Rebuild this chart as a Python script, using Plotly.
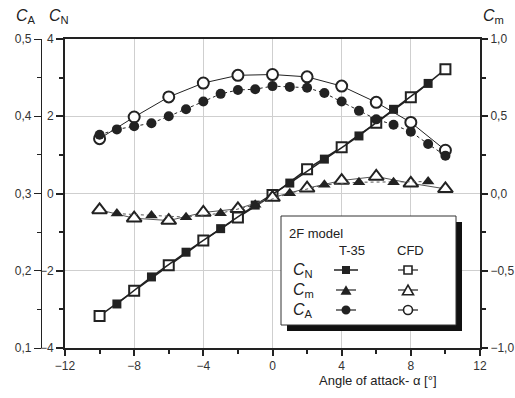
import plotly.graph_objects as go

# ---------------- data ----------------
alpha_odd = [-9, -7, -5, -3, -1, 1, 3, 5, 7, 9]
alpha_even = [-10, -8, -6, -4, -2, 0, 2, 4, 6, 8, 10]
alpha_all = list(range(-10, 11))

CN_T35 = [-2.86, -2.16, -1.52, -0.91, -0.30, 0.27, 0.89, 1.49, 2.18, 2.85]
CN_CFD = [-3.17, -2.52, -1.86, -1.22, -0.62, -0.04, 0.63, 1.20, 1.83, 2.49, 3.22]

Cm_T35 = [-0.13, -0.143, -0.153, -0.128, -0.073, 0.002, 0.056, 0.073, 0.073, 0.077]
Cm_CFD = [-0.106, -0.160, -0.175, -0.123, -0.099, -0.026, 0.034, 0.084, 0.11, 0.066, 0.03]

CA_T35 = [0.376, 0.383, 0.387, 0.391, 0.400, 0.409, 0.419, 0.429, 0.434, 0.435, 0.439,
          0.438, 0.437, 0.430, 0.419, 0.407, 0.396, 0.389, 0.380, 0.364, 0.349]
CA_CFD = [0.371, 0.399, 0.425, 0.443, 0.453, 0.454, 0.451, 0.439, 0.418, 0.392, 0.356]

x_ticks = [-12, -8, -4, 0, 4, 8, 12]

# ---------------- layout geometry ----------------
FW, FH = 515, 398
ML, MR, MT, MB = 30, 35, 39, 50
PW = FW - ML - MR
PH = FH - MT - MB
AX_LEFT = 65      # pixel of CN axis
CA_AX = 41        # pixel of outer CA axis

def xp(px):
    return (px - ML) / PW

def yp(py):
    return (FH - MB - py) / PH

FONT = "Liberation Sans, Arial, sans-serif"
DARK = "#222222"
GRID = "#cfcfcf"

fig = go.Figure()

# CFD first (drawn below), T-35 on top
fig.add_trace(go.Scatter(x=alpha_even, y=CA_CFD, yaxis="y3", mode="lines+markers",
                         line=dict(color=DARK, width=1),
                         marker=dict(symbol="circle", size=11, color="white",
                                     line=dict(color=DARK, width=2)), showlegend=False))
fig.add_trace(go.Scatter(x=alpha_all, y=CA_T35, yaxis="y3", mode="lines+markers",
                         line=dict(color=DARK, width=1, dash="3px,3px"),
                         marker=dict(symbol="circle", size=10, color=DARK,
                                     line=dict(color=DARK, width=0)), showlegend=False))
fig.add_trace(go.Scatter(x=alpha_even, y=Cm_CFD, yaxis="y2", mode="lines+markers",
                         line=dict(color="#555555", width=1),
                         marker=dict(symbol="triangle-up", size=13, color="white",
                                     line=dict(color=DARK, width=2)), showlegend=False))
fig.add_trace(go.Scatter(x=alpha_odd, y=Cm_T35, yaxis="y2", mode="lines+markers",
                         line=dict(color="#555555", width=1, dash="3px,3px"),
                         marker=dict(symbol="triangle-up", size=11, color=DARK,
                                     line=dict(color=DARK, width=0)), showlegend=False))
fig.add_trace(go.Scatter(x=alpha_even, y=CN_CFD, mode="lines+markers",
                         line=dict(color=DARK, width=1.5),
                         marker=dict(symbol="square", size=10, color="white",
                                     line=dict(color=DARK, width=2)), showlegend=False))
fig.add_trace(go.Scatter(x=alpha_odd, y=CN_T35, mode="lines+markers",
                         line=dict(color=DARK, width=1.5),
                         marker=dict(symbol="square", size=9, color=DARK,
                                     line=dict(color=DARK, width=0)), showlegend=False))

tickfont = dict(family=FONT, size=12, color="#333333")

fig.update_layout(
    width=FW, height=FH,
    margin=dict(l=ML, r=MR, t=MT, b=MB, pad=0),
    paper_bgcolor="white", plot_bgcolor="white",
    separators=",.",
    showlegend=False,
    xaxis=dict(domain=[xp(AX_LEFT), 1], range=[-12, 12], tickvals=x_ticks,
               showgrid=True, gridcolor=GRID, gridwidth=1, zeroline=False,
               showline=True, linecolor=DARK, linewidth=2, mirror=True,
               ticks="outside", ticklen=6, tickwidth=1.5, tickcolor=DARK,
               minor=dict(dtick=2, tick0=0, ticks="outside", ticklen=4, tickwidth=1.5,
                          tickcolor=DARK, showgrid=False),
               tickfont=tickfont, automargin=False),
    yaxis=dict(range=[-4, 4], dtick=2, tick0=0, side="left",
               showgrid=True, gridcolor=GRID, gridwidth=1, zeroline=False,
               showline=True, linecolor=DARK, linewidth=2,
               ticks="outside", ticklen=7, tickwidth=1.5, tickcolor=DARK,
               minor=dict(dtick=1, tick0=0, ticks="outside", ticklen=4, tickwidth=1.5,
                          tickcolor=DARK, showgrid=False),
               tickfont=tickfont, automargin=False),
    yaxis2=dict(range=[-1, 1], dtick=0.5, tick0=0, tickformat=".1f", side="right",
                overlaying="y", anchor="x", showgrid=False, zeroline=False,
                showline=True, linecolor=DARK, linewidth=2,
                ticks="outside", ticklen=6, tickwidth=1.5, tickcolor=DARK,
                minor=dict(dtick=0.25, tick0=0, ticks="outside", ticklen=4, tickwidth=1.5,
                           tickcolor=DARK, showgrid=False),
                tickfont=tickfont, automargin=False),
    yaxis3=dict(range=[0.1, 0.5], dtick=0.1, tick0=0.1, tickformat=".1f", side="left",
                overlaying="y", anchor="free", position=xp(CA_AX),
                showgrid=False, zeroline=False,
                showline=True, linecolor=DARK, linewidth=1.2,
                ticks="outside", ticklen=7, tickwidth=1.2, tickcolor=DARK,
                minor=dict(dtick=0.05, tick0=0.1, ticks="outside", ticklen=4, tickwidth=1.2,
                           tickcolor=DARK, showgrid=False),
                tickfont=tickfont, automargin=False),
)

# ---------------- axis titles ----------------
ann = []
def add_text(text, px, py, size=12, xanchor="center", italic=False, color="#222222"):
    ann.append(dict(text=text, x=xp(px), y=yp(py), xref="paper", yref="paper",
                    showarrow=False, xanchor=xanchor, yanchor="middle",
                    font=dict(family=FONT, size=size, color=color)))

add_text("<i>C</i><sub>A</sub>", 14, 16, size=16, xanchor="left")
add_text("<i>C</i><sub>N</sub>", 47, 16, size=16, xanchor="left")
add_text("<i>C</i><sub>m</sub>", 481, 16, size=16, xanchor="left")
add_text("Angle of attack- α [°]", 378, 380, size=13)

# ---------------- custom legend box ----------------
shapes = []
shapes.append(dict(type="rect", xref="paper", yref="paper",
                   x0=xp(287), x1=xp(462), y0=yp(331), y1=yp(222),
                   fillcolor="#111111", line=dict(width=0)))
shapes.append(dict(type="rect", xref="paper", yref="paper",
                   x0=xp(281), x1=xp(456), y0=yp(325), y1=yp(216),
                   fillcolor="white", line=dict(color="#333333", width=1)))

add_text("2F model", 287, 233, size=13, xanchor="left")
add_text("T-35", 352, 250, size=13)
add_text("CFD", 410, 250, size=13)
add_text("<i>C</i><sub>N</sub>", 291, 270, size=16, xanchor="left")
add_text("<i>C</i><sub>m</sub>", 291, 290, size=16, xanchor="left")
add_text("<i>C</i><sub>A</sub>", 291, 310, size=16, xanchor="left")

col_t, col_c = 346, 408
rows = [270, 290, 310]

def seg(x0, x1, y, w=1.2):
    shapes.append(dict(type="line", xref="paper", yref="paper",
                       x0=xp(x0), x1=xp(x1), y0=yp(y), y1=yp(y),
                       line=dict(color=DARK, width=w)))

def square(cx, cy, s, filled):
    shapes.append(dict(type="rect", xref="paper", yref="paper",
                       x0=xp(cx - s / 2), x1=xp(cx + s / 2), y0=yp(cy + s / 2), y1=yp(cy - s / 2),
                       fillcolor=DARK if filled else "white",
                       line=dict(color=DARK, width=0 if filled else 1.6)))

def circle(cx, cy, r, filled):
    shapes.append(dict(type="circle", xref="paper", yref="paper",
                       x0=xp(cx - r), x1=xp(cx + r), y0=yp(cy + r), y1=yp(cy - r),
                       fillcolor=DARK if filled else "white",
                       line=dict(color=DARK, width=0 if filled else 1.6)))

def triangle(cx, cy, s, filled):
    h = s * 0.87
    p = "M{},{} L{},{} L{},{} Z".format(
        xp(cx - s / 2), yp(cy + h / 2), xp(cx + s / 2), yp(cy + h / 2), xp(cx), yp(cy - h / 2))
    shapes.append(dict(type="path", xref="paper", yref="paper", path=p,
                       fillcolor=DARK if filled else "white",
                       line=dict(color=DARK, width=0 if filled else 1.6)))

# CN
seg(col_t - 12, col_t + 12, rows[0], 1.5)
square(col_t, rows[0], 8, True)
seg(col_c - 10, col_c + 10, rows[0])
square(col_c, rows[0], 8, False)
# Cm
seg(col_t - 10, col_t + 10, rows[1])
triangle(col_t, rows[1], 11, True)
seg(col_c - 10, col_c + 10, rows[1])
triangle(col_c, rows[1], 11, False)
# CA
seg(col_t - 10, col_t + 10, rows[2])
circle(col_t, rows[2], 4.5, True)
seg(col_c - 10, col_c + 10, rows[2])
circle(col_c, rows[2], 4.5, False)

fig.update_layout(shapes=shapes, annotations=ann)

fig.write_html("out.html")
